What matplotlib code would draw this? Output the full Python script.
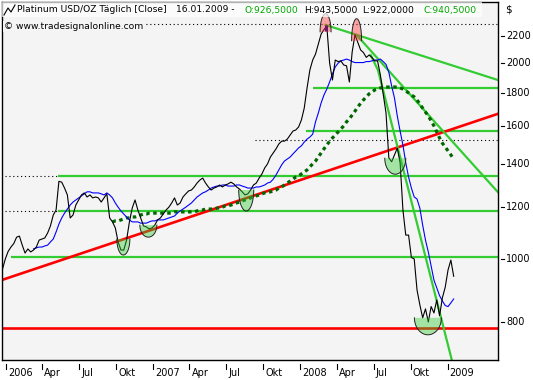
import matplotlib
matplotlib.use("Agg")
import matplotlib.pyplot as plt
import matplotlib.dates as mdates
from matplotlib.patches import Polygon, Rectangle
from matplotlib.lines import Line2D
from matplotlib.ticker import NullLocator
import matplotlib.transforms as mtransforms
import numpy as np
import pandas as pd

plt.rcParams["font.family"] = ["DejaVu Sans"]

# weekly closes (Fridays), 23.12.2005 .. 16.01.2009, USD/oz
price = [965, 1000, 1027, 1043, 1056, 1080, 1084, 1050, 1021, 1036,
         1025, 1032, 1043, 1069, 1073, 1077, 1096, 1124, 1168, 1189,
         1316, 1312, 1285, 1254, 1156, 1168, 1210, 1232, 1254, 1263,
         1245, 1254, 1241, 1245, 1241, 1223, 1241, 1259, 1156, 1140,
         1116, 1062, 1032, 1032, 1069, 1140, 1197, 1232, 1189, 1156,
         1124, 1120, 1112, 1116, 1127, 1148, 1156, 1172, 1189, 1201,
         1219, 1241, 1210, 1219, 1245, 1259, 1272, 1276, 1290, 1308,
         1322, 1331, 1308, 1290, 1276, 1285, 1290, 1299, 1290, 1299,
         1304, 1312, 1304, 1290, 1281, 1268, 1254, 1259, 1276, 1299,
         1308, 1331, 1351, 1380, 1400, 1434, 1455, 1476, 1502, 1517,
         1517, 1528, 1550, 1572, 1578, 1595, 1635, 1705, 1831, 1951,
         2021, 2064, 2138, 2216, 2250, 2280, 2000, 1883, 2021, 2010,
         2015, 1986, 1980, 1870, 2080, 2210, 2150, 2094, 2075, 2040,
         2057, 2040, 2015, 2015, 1917, 1793, 1676, 1430, 1410, 1445,
         1480, 1405, 1189, 1088, 1088, 1005, 1000, 896, 850, 812,
         838, 800, 845, 826, 865, 818, 872, 905, 962, 996,
         940.5]

# blue average, from 10.03.2006
ma_fast = [1036, 1040, 1043, 1043, 1047, 1050, 1062, 1073, 1100,
           1131, 1156, 1176, 1193, 1210, 1223, 1232, 1241, 1250, 1259,
           1268, 1268, 1263, 1263, 1263, 1259, 1254, 1263, 1254, 1241,
           1219, 1201, 1185, 1172, 1160, 1148, 1140, 1140, 1140, 1135,
           1135, 1135, 1140, 1144, 1144, 1148, 1148, 1148, 1152, 1156,
           1160, 1164, 1176, 1185, 1193, 1201, 1210, 1219, 1232, 1245,
           1254, 1263, 1268, 1276, 1285, 1290, 1294, 1294, 1299, 1299,
           1294, 1294, 1294, 1299, 1299, 1294, 1290, 1285, 1285, 1285,
           1290, 1290, 1294, 1299, 1308, 1312, 1326, 1346, 1370, 1395,
           1414, 1424, 1434, 1450, 1465, 1481, 1492, 1512, 1528, 1539,
           1555, 1624, 1676, 1737, 1786, 1824, 1870, 1924, 1972, 1998,
           2015, 2021, 2028, 2021, 2010, 2003, 2003, 2003, 2003, 2010,
           2010, 2015, 2021, 2021, 2028, 2010, 1990, 1936, 1844, 1767,
           1658, 1572, 1496, 1405, 1336, 1285, 1245, 1236, 1197, 1127,
           1069, 1025, 975, 928, 903, 878, 862, 848, 845, 856,
           868]

# dotted dark green average, from 22.09.2006
ma_slow = [1140, 1144, 1144, 1148, 1152, 1156, 1156, 1160, 1160, 1164,
           1168, 1172, 1172, 1176, 1176, 1176, 1176, 1176, 1176, 1176,
           1176, 1176, 1181, 1181, 1181, 1181, 1181, 1181, 1181, 1181,
           1185, 1189, 1189, 1193, 1193, 1193, 1193, 1197, 1197, 1201,
           1206, 1206, 1210, 1214, 1219, 1223, 1228, 1232, 1236, 1241,
           1245, 1250, 1254, 1259, 1263, 1263, 1268, 1272, 1276, 1285,
           1290, 1299, 1308, 1317, 1326, 1336, 1341, 1351, 1360, 1370,
           1385, 1400, 1414, 1434, 1455, 1476, 1496, 1517, 1534, 1550,
           1567, 1584, 1601, 1624, 1641, 1664, 1687, 1711, 1735, 1755,
           1774, 1793, 1805, 1818, 1824, 1831, 1834, 1837, 1837, 1837,
           1837, 1837, 1831, 1824, 1812, 1799, 1786, 1774, 1755, 1730,
           1705, 1681, 1658, 1630, 1601, 1567, 1534, 1506, 1486, 1465,
           1445, 1424]

support_levels = [1008, 1183, 1341, 1573, 1832]
support_from = ["2006-01-13", "2006-05-10", "2006-05-10", "2008-01-15", "2008-02-01"]
floor_level = 783
trend_dates = ["2005-12-21", "2009-05-06"]
trend_values = [928, 1671]
res1_dates = ["2008-03-04", "2009-05-06"]
res1_values = [2288, 1883]
res2_dates = ["2008-05-20", "2009-05-06"]
res2_values = [2208, 1266]
res3_dates = ["2008-06-24", "2008-07-12", "2009-01-19"]
res3_values = [2057, 1951, 670]

top_level = 2295
mid_dotted = 1523

low_dates = ["2006-10-19", "2006-12-20", "2007-08-20", "2008-08-24", "2008-11-13"]
low_values = [1073, 1127, 1276, 1428, 812]
low_w = [13, 17, 15, 21, 27]
low_d = [16, 12, 21, 16, 17]
high_dates = ["2008-03-04", "2008-05-20"]
high_values = [2233, 2164]
high_w = [11, 10]
high_h = [18, 22]

tick_dates = ["2006-01-01", "2006-04-01", "2006-07-01", "2006-10-01",
              "2007-01-01", "2007-04-01", "2007-07-01", "2007-10-01",
              "2008-01-01", "2008-04-01", "2008-07-01", "2008-10-01",
              "2009-01-01"]
tick_labels = ["2006", "Apr", "Jul", "Okt", "2007", "Apr", "Jul", "Okt",
               "2008", "Apr", "Jul", "Okt", "2009"]
y_ticks = [800, 1000, 1200, 1400, 1600, 1800, 2000, 2200]

dates = pd.date_range("2005-12-23", periods=len(price), freq="7D")
fast_dates = dates[len(price) - len(ma_fast):]
slow_dates = dates[len(price) - len(ma_slow):]
T = lambda s: pd.Timestamp(s)
xmin, xmax = T("2005-12-21"), T("2009-05-06")

W, H = 533, 380
fig = plt.figure(figsize=(W / 100, H / 100), dpi=100)
ax_l, ax_b, ax_w, ax_h = 1.7, 20, 496.3, 358.5
ax = fig.add_axes([ax_l / W, ax_b / H, ax_w / W, ax_h / H])
ax.set_facecolor("#F4F4F4")
ax.set_yscale("log")
ax.set_xlim(xmin, xmax)
ax.set_ylim(699.4, 2486)
ax.set_xticks([])
ax.set_yticks([])
ax.yaxis.set_minor_locator(NullLocator())
for s in ax.spines.values():
    s.set_linewidth(1.0)
    s.set_color("black")

GREEN = "#33CC33"
RED = "#FF0000"

# dotted guide lines
ax.plot([xmin, xmax], [top_level] * 2, color="black", lw=0.8, ls=(0, (1, 2.5)), zorder=1)
ax.plot([T("2007-09-10"), xmax], [mid_dotted] * 2, color="black", lw=0.8, ls=(0, (1, 2.5)), zorder=1)
for lv in support_levels[1:3]:
    ax.plot([T("2005-12-29"), T("2006-05-10")], [lv] * 2, color="black", lw=0.8, ls=(0, (1, 2.5)), zorder=1)

# support / resistance
for lv, d0 in zip(support_levels, support_from):
    ax.plot([T(d0), xmax], [lv] * 2, color=GREEN, lw=1.6, zorder=2, solid_capstyle="butt")
ax.plot([xmin, xmax], [floor_level] * 2, color=RED, lw=1.9, zorder=2)
ax.plot([T(d) for d in trend_dates], trend_values, color=RED, lw=1.9, zorder=2)
for dd, vv in [(res1_dates, res1_values), (res2_dates, res2_values), (res3_dates, res3_values)]:
    ax.plot([T(d) for d in dd], vv, color=GREEN, lw=1.6, zorder=2)

# averages and price
ax.plot(slow_dates, ma_slow, color="#006600", lw=2.3, ls=(0, (1.1, 1.1)), zorder=3)
ax.plot(fast_dates, ma_fast, color="#0000FF", lw=0.8, zorder=3)
ax.plot(dates, price, color="black", lw=0.8, zorder=4)
ax.vlines(T("2008-03-04"), 2240, 2288, color="#000099", lw=2.2, zorder=4)


def cup(date, value, w, d, up, face):
    cx, cy = ax.transData.transform((mdates.date2num(T(date)), value))
    t = np.linspace(0, np.pi, 40)
    sgn = 1 if up else -1
    px = cx + w / 2 * np.cos(t)
    py = cy + sgn * d * np.sin(t)
    pts = ax.transAxes.inverted().transform(np.column_stack([px, py]))
    ax.add_patch(Polygon(pts, closed=True, transform=ax.transAxes, facecolor=face,
                         alpha=0.42, edgecolor="none", zorder=5))
    ax.plot(pts[:, 0], pts[:, 1], transform=ax.transAxes, color="#222222", lw=0.7, zorder=6)


for d, v, w, dp in zip(low_dates, low_values, low_w, low_d):
    cup(d, v, w, dp, False, GREEN)
for d, v, w, hh in zip(high_dates, high_values, high_w, high_h):
    cup(d, v, w, hh, True, "#FF3333")

# x axis ticks and labels
xt = ax.get_xaxis_transform()
for d, lab in zip(tick_dates, tick_labels):
    xd = mdates.date2num(T(d))
    ax.plot([xd, xd], [-4 / ax_h, -8.5 / ax_h], transform=xt, color="black", lw=0.8, clip_on=False)
    ax.text(xd, -13.5 / ax_h, lab, transform=mtransforms.offset_copy(xt, fig=fig, x=2, y=0, units="dots"),
            ha="left", va="center", fontsize=7)

# y axis ticks and labels (right)
yt = ax.get_yaxis_transform()
for v in y_ticks:
    ax.plot([1 + 3 / ax_w, 1 + 6 / ax_w], [v, v], transform=yt, color="black", lw=0.8, clip_on=False)
    ax.text(1 + 8 / ax_w, v, str(v), transform=yt, ha="left", va="center", fontsize=7)
fig.text(505 / W, 1 - 9 / H, "$", fontsize=7.5, va="center", ha="left")

# title block
fig.add_artist(Rectangle((2 / W, 1 - 17 / H), 480 / W, 15.5 / H, transform=fig.transFigure,
                         facecolor="white", alpha=0.7, edgecolor="none", zorder=2))
fig.add_artist(Line2D([4 / W, 8 / W, 11 / W, 15 / W], [1 - 15 / H, 1 - 8 / H, 1 - 12 / H, 1 - 5 / H],
                      transform=fig.transFigure, color="black", lw=0.8))
ty = 1 - 10 / H
parts = [(17, "Platinum USD/OZ Täglich [Close]", "black"),
         (176, "16.01.2009 -", "black"),
         (245, "O:926,5000", "#00A800"),
         (304, "H:943,5000", "black"),
         (362, "L:922,0000", "black"),
         (424, "C:940,5000", "#00A800")]
for x, s, c in parts:
    fig.text(x / W, ty, s, color=c, fontsize=6.6, va="center", ha="left")
fig.text(4 / W, 1 - 26.5 / H, "© www.tradesignalonline.com", fontsize=6.6, va="center", ha="left",
         bbox=dict(facecolor="#F4F4F4", edgecolor="none", pad=0.6))

fig.savefig("out.png", dpi=100)
